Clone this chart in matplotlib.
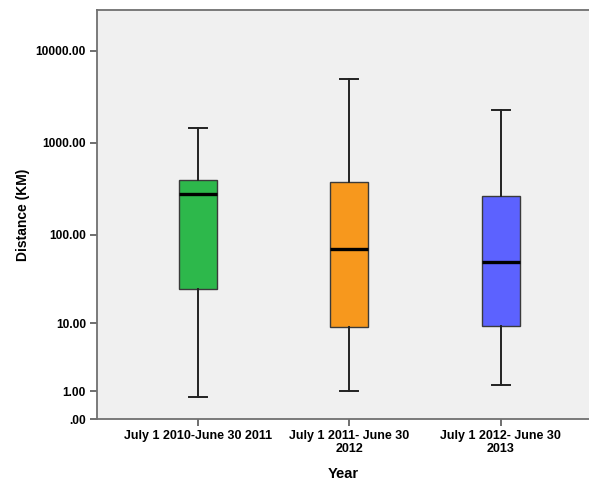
import numpy as np
import matplotlib.pyplot as plt

# values (km)
years = ["July 1 2010-June 30 2011", "July 1 2011- June 30\n2012", "July 1 2012- June 30\n2013"]
whis_low = [0.73, 1.03, 1.32]
q1 = [25.1, 9.0, 9.2]
medians = [276, 69.4, 49.5]
q3 = [393, 373, 263]
whis_high = [1445, 5000, 2265]
colors = ["#2db84b", "#f7981d", "#5c62ff"]

yticks = [0, 1, 10, 100, 1000, 10000]
ytick_labels = [".00", "1.00", "10.00", "100.00", "1000.00", "10000.00"]

plt.rcParams['font.family'] = ['Liberation Sans', 'DejaVu Sans']

stats = []
for i in range(len(years)):
    stats.append({"whislo": whis_low[i], "q1": q1[i], "med": medians[i],
                  "q3": q3[i], "whishi": whis_high[i], "fliers": []})

fig = plt.figure(figsize=(5.89, 4.80), dpi=100)
ax = fig.add_axes([97 / 589, 1 - 419 / 480, 1 - 97 / 589, (419 - 10) / 480])
ax.set_facecolor("#f0f0f0")

ax.set_yscale('function', functions=(lambda v: np.log10(np.maximum(v, 0) + 1),
                                     lambda v: 10 ** v - 1))

bp = ax.bxp(stats, positions=[1, 2, 3], widths=0.25, patch_artist=True,
            showfliers=False,
            boxprops=dict(edgecolor="#3a3a3a", linewidth=1.0),
            whiskerprops=dict(color="#222222", linewidth=1.4),
            capprops=dict(color="#222222", linewidth=1.4),
            medianprops=dict(color="black", linewidth=2.4),
            capwidths=0.12)
for patch, c in zip(bp["boxes"], colors):
    patch.set_facecolor(c)

ax.set_ylim(0, 27900)
ax.set_xlim(1 - 101 / 151.3, 1 + (589 - 198) / 151.3)
ax.set_yticks(yticks)
ax.set_yticklabels(ytick_labels, fontsize=8.6, fontweight="bold")
ax.minorticks_off()
ax.set_xticks([1, 2, 3])
ax.set_xticklabels(years, fontsize=9, fontweight="bold", linespacing=1.05)
ax.tick_params(axis="both", direction="out", length=5, width=1.2, color="#555555", pad=3)

for side in ["left", "bottom", "top"]:
    ax.spines[side].set_color("#707070")
    ax.spines[side].set_linewidth(1.3)
ax.spines["right"].set_visible(False)

ax.set_ylabel("Distance (KM)", fontsize=10, fontweight="bold", labelpad=4)
ax.set_xlabel("Year", fontsize=10.5, fontweight="bold", labelpad=9)

fig.savefig("out.png", dpi=100)
plt.close()
